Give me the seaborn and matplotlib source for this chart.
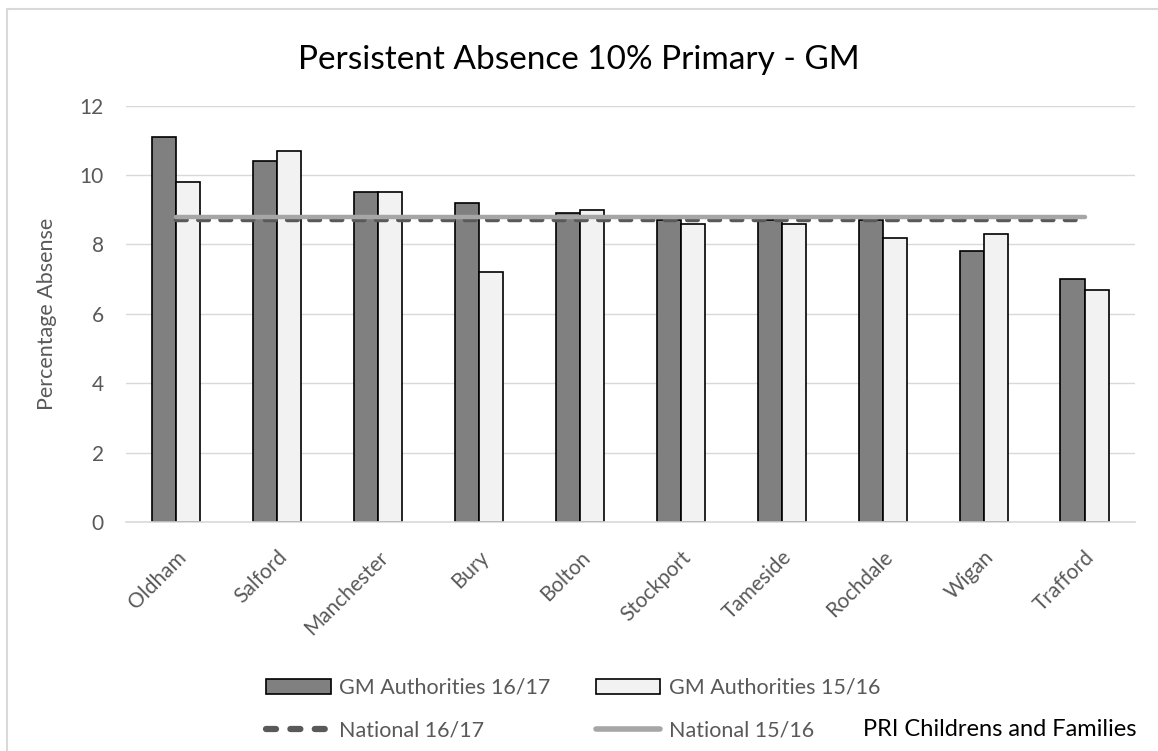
import numpy as np
import pandas as pd
import matplotlib
matplotlib.use("Agg")
import matplotlib.pyplot as plt
from matplotlib.patches import Patch, Rectangle
from matplotlib.lines import Line2D
import seaborn as sns

categories = ["Oldham", "Salford", "Manchester", "Bury", "Bolton",
              "Stockport", "Tameside", "Rochdale", "Wigan", "Trafford"]
gm_1617 = [11.1, 10.4, 9.5, 9.2, 8.9, 8.7, 8.7, 8.7, 7.8, 7.0]
gm_1516 = [9.8, 10.7, 9.5, 7.2, 9.0, 8.6, 8.6, 8.2, 8.3, 6.7]
national_1617 = [8.7] * len(categories)
national_1516 = [8.8] * len(categories)
series_names = ["GM Authorities 16/17", "GM Authorities 15/16"]
line_names = ["National 16/17", "National 15/16"]
yticks = [0, 2, 4, 6, 8, 10, 12]

sns.set_theme(style="white")
plt.rcParams["font.family"] = ["Lato", "DejaVu Sans"]

df = pd.DataFrame({
    "Authority": categories * 2,
    "Value": gm_1617 + gm_1516,
    "Series": [series_names[0]] * len(categories) + [series_names[1]] * len(categories),
})

bar_colors = {series_names[0]: "#808080", series_names[1]: "#f2f2f2"}
dash_color = "#595959"
solid_color = "#a6a6a6"
text_gray = "#595959"
grid_color = "#d9d9d9"

fig = plt.figure(figsize=(11.58, 7.51), dpi=100)
ax = fig.add_axes([0.1088, 0.3049, 0.8713, 0.5544])

sns.barplot(data=df, x="Authority", y="Value", hue="Series", order=categories,
            hue_order=series_names, palette=bar_colors, width=0.476, gap=0,
            edgecolor="black", linewidth=1.2, ax=ax, legend=False, errorbar=None,
            saturation=1, zorder=2)

xpos = np.arange(len(categories))
ax.plot(xpos, national_1617, color=dash_color, lw=3.2, dashes=(2.4, 2.6),
        dash_capstyle="round", zorder=3)
ax.plot(xpos, national_1516, color=solid_color, lw=3.2,
        solid_capstyle="round", zorder=4)

ax.set_ylim(0, 12)
ax.set_xlim(-0.5, len(categories) - 0.5)
ax.set_yticks(yticks)
ax.yaxis.grid(True, color=grid_color, lw=1.0, zorder=0)
ax.set_axisbelow(True)
for s in ["top", "right", "left"]:
    ax.spines[s].set_visible(False)
ax.spines["bottom"].set_color(grid_color)
ax.spines["bottom"].set_linewidth(1.2)
ax.tick_params(axis="both", length=0, labelsize=15, colors=text_gray)
ax.tick_params(axis="y", pad=16)
ax.tick_params(axis="x", pad=18)
plt.setp(ax.get_xticklabels(), rotation=45, ha="right", rotation_mode="anchor")
ax.set_xlabel("")
ax.set_ylabel("Percentage Absense", fontsize=15.5, color=text_gray, labelpad=16)

fig.text(0.5, 1 - 60 / 751, "Persistent Absence 10% Primary - GM", ha="center",
         va="center", fontsize=24, color="black")

handles = [
    Patch(facecolor=bar_colors[series_names[0]], edgecolor="black", lw=1.2),
    Line2D([], [], color=dash_color, lw=4.5, dashes=(1.6, 2.3), dash_capstyle="round"),
    Patch(facecolor=bar_colors[series_names[1]], edgecolor="black", lw=1.2),
    Line2D([], [], color=solid_color, lw=4.0, solid_capstyle="round"),
]
labels = [series_names[0], line_names[0], series_names[1], line_names[1]]
leg = fig.legend(handles, labels, ncol=2, loc="upper left",
                 bbox_to_anchor=(266 / 1158, 1 - 678 / 751), frameon=False,
                 fontsize=15.5, handlelength=3.0, handletextpad=0.4,
                 columnspacing=2.1, labelspacing=1.05, borderpad=0, borderaxespad=0)
for t in leg.get_texts():
    t.set_color(text_gray)

fig.text(863 / 1158, 1 - 736 / 751, "PRI Childrens and Families", ha="left",
         va="baseline", fontsize=17, color="black")

fig.patches.append(Rectangle((7 / 1158, -0.02), 1.1, 1 - 9 / 751 + 0.02,
                             transform=fig.transFigure, fill=False,
                             edgecolor=grid_color, lw=1.5))

fig.savefig("out.png", dpi=100)
